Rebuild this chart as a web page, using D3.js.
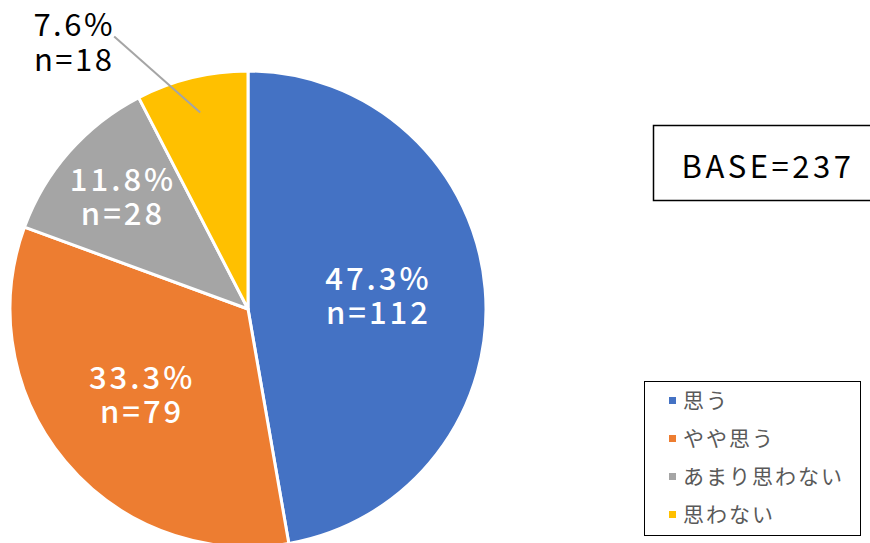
<!DOCTYPE html>
<html>
<head>
<meta charset="utf-8">
<script src="https://cdn.jsdelivr.net/npm/d3@7"></script>
<style>
  body { margin: 0; background: #fff; }
  svg text { font-family: "Noto Sans CJK JP", "Noto Sans", sans-serif; }
</style>
</head>
<body>
<div id="chart"></div>
<script>
var width = 870, height = 543;

// data
var categories = ["思う", "やや思う", "あまり思わない", "思わない"];
var counts = [112, 79, 28, 18];
var percents = [47.3, 33.3, 11.8, 7.6];
var colors = ["#4472C4", "#ED7D31", "#A5A5A5", "#FFC000"];
var baseN = 237;

var cx = 248, cy = 309, radius = 238;

var svg = d3.select("#chart")
  .append("svg")
  .attr("width", width)
  .attr("height", height);

var dataset = categories.map(function(c, i) {
  return {cat: c, n: counts[i], pct: percents[i], color: colors[i]};
});

var pie = d3.pie()
  .sort(null)
  .value(function(d) { return d.n; });

var arc = d3.arc()
  .innerRadius(0)
  .outerRadius(radius);

var arcs = pie(dataset);

var g = svg.append("g")
  .attr("transform", "translate(" + cx + "," + cy + ")");

g.selectAll("path")
  .data(arcs)
  .enter()
  .append("path")
  .attr("d", arc)
  .attr("fill", function(d) { return d.data.color; })
  .attr("stroke", "#fff")
  .attr("stroke-width", 3)
  .attr("stroke-linejoin", "round");

function polar(a, r) {
  return [r * Math.sin(a), -r * Math.cos(a)];
}

// labels
arcs.forEach(function(d) {
  var mid = (d.startAngle + d.endAngle) / 2;
  var share = d.data.n / baseN;
  var lines = [d.data.pct.toFixed(1) + "%", "n=" + d.data.n];
  if (share < 0.1) {
    // outside label with leader line
    var p0 = polar(mid, radius * 0.85);
    var p1 = [p0[0] - 86, p0[1] - 76];
    g.append("line")
      .attr("x1", p0[0]).attr("y1", p0[1])
      .attr("x2", p1[0]).attr("y2", p1[1])
      .attr("stroke", "#A5A5A5")
      .attr("stroke-width", 2);
    var t = g.append("text")
      .attr("text-anchor", "middle")
      .attr("font-size", 31)
      .attr("letter-spacing", 2.5)
      .attr("fill", "#000");
    t.append("tspan").attr("x", p1[0] - 40).attr("y", p1[1]).text(lines[0]);
    t.append("tspan").attr("x", p1[0] - 40).attr("y", p1[1] + 35).text(lines[1]);
  } else {
    var r = share < 0.15 ? radius * 0.7 : (share < 0.4 ? radius * 0.58 : radius * 0.55);
    var p = polar(mid, r);
    var t2 = g.append("text")
      .attr("text-anchor", "middle")
      .attr("font-size", 31)
      .attr("font-weight", 500)
      .attr("letter-spacing", 3)
      .attr("fill", "#fff");
    t2.append("tspan").attr("x", p[0]).attr("y", p[1] - 8).text(lines[0]);
    t2.append("tspan").attr("x", p[0]).attr("y", p[1] + 26).text(lines[1]);
  }
});

// BASE box
svg.append("rect")
  .attr("x", 653.5).attr("y", 125.5)
  .attr("width", 230).attr("height", 75)
  .attr("fill", "#fff")
  .attr("stroke", "#000")
  .attr("stroke-width", 1.5);

svg.append("text")
  .attr("x", 768)
  .attr("y", 178)
  .attr("text-anchor", "middle")
  .attr("font-size", 31)
  .attr("letter-spacing", 3.5)
  .attr("fill", "#000")
  .text("BASE=" + baseN);

// legend
svg.append("rect")
  .attr("x", 644.5).attr("y", 381.5)
  .attr("width", 216).attr("height", 154)
  .attr("fill", "#fff")
  .attr("stroke", "#000")
  .attr("stroke-width", 1);

var legend = svg.selectAll(".legend")
  .data(dataset)
  .enter().append("g")
  .attr("class", "legend")
  .attr("transform", function(d, i) { return "translate(669," + (401 + 38 * i) + ")"; });

legend.append("rect")
  .attr("x", 0).attr("y", -4)
  .attr("width", 7).attr("height", 7)
  .attr("fill", function(d) { return d.color; });

legend.append("text")
  .attr("x", 14)
  .attr("y", 0)
  .attr("dy", "0.35em")
  .attr("font-size", 21)
  .attr("letter-spacing", 2)
  .attr("fill", "#595959")
  .text(function(d) { return d.cat; });
</script>
</body>
</html>
